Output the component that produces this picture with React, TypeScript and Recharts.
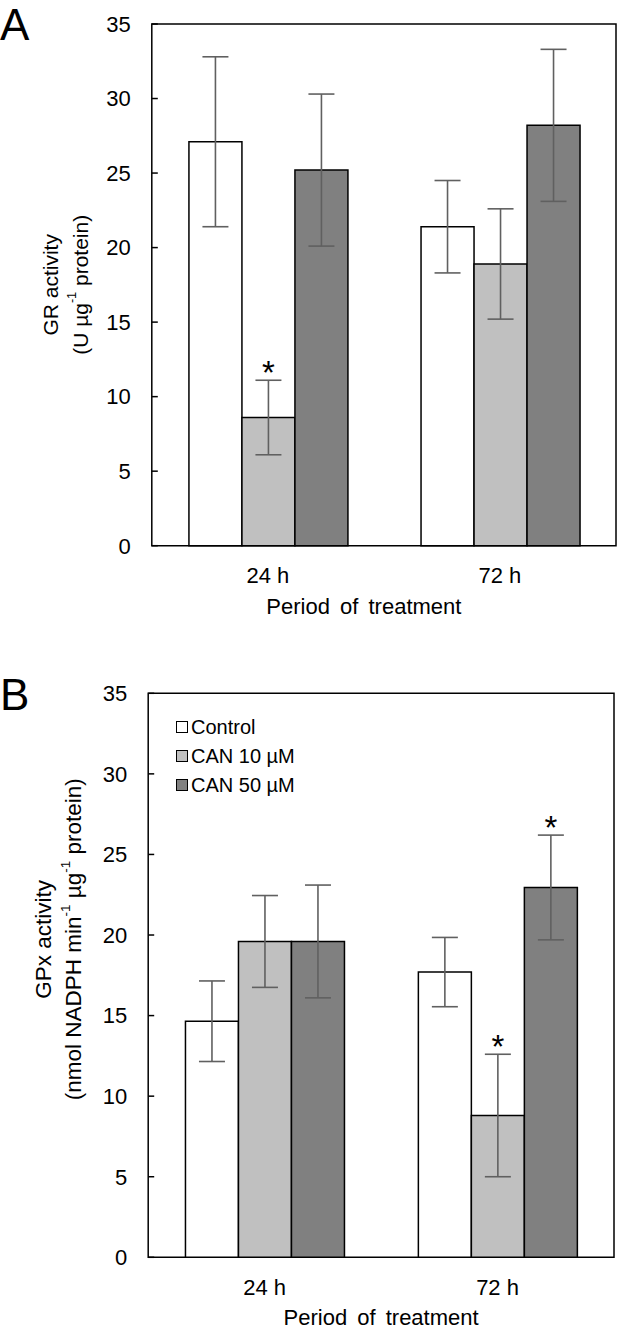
import React from 'react';
import {
  BarChart,
  Bar,
  XAxis,
  YAxis,
  ErrorBar,
  LabelList,
  Legend,
  ReferenceArea,
} from 'recharts';

const FONT = '"Liberation Sans", Arial, Helvetica, sans-serif';

const periods = ['24 h', '72 h'];
const seriesNames = ['Control', 'CAN 10 µM', 'CAN 50 µM'];
const seriesFills = ['#ffffff', '#c0c0c0', '#808080'];
const yTicks = [0, 5, 10, 15, 20, 25, 30, 35];

// GR activity (U µg-1 protein)
const grControl = [27.1, 21.4];
const grControlErr = [5.7, 3.1];
const grCan10 = [8.6, 18.9];
const grCan10Err = [2.5, 3.7];
const grCan50 = [25.2, 28.2];
const grCan50Err = [5.1, 5.1];
const grCan10Sig = [true, false];

// GPx activity (nmol NADPH min-1 µg-1 protein)
const gpxControl = [14.65, 17.7];
const gpxControlErr = [2.5, 2.15];
const gpxCan10 = [19.6, 8.8];
const gpxCan10Err = [2.85, 3.8];
const gpxCan50 = [19.6, 22.95];
const gpxCan50Err = [3.5, 3.25];
const gpxCan10Sig = [false, true];
const gpxCan50Sig = [false, true];

const noSig = [false, false];

type Seg = { t: string; sup?: boolean };

function buildRows(means: number[][], errs: number[][]) {
  return periods.map((period, i) => ({
    period,
    s0: means[0][i],
    s0Err: errs[0][i],
    s1: means[1][i],
    s1Err: errs[1][i],
    s2: means[2][i],
    s2Err: errs[2][i],
  }));
}

const makeStar = (means: number[], errs: number[], sig: boolean[]) => (props: any) => {
  const idx = props.index;
  if (idx == null || !sig[idx]) return null;
  const vb = props.viewBox || props;
  const { x, y, width, height } = vb;
  const top = y - (errs[idx] / means[idx]) * Math.abs(height);
  return (
    <text
      key={`star-${idx}`}
      x={x + width / 2}
      y={top + 4}
      textAnchor="middle"
      fontSize={33}
      fontFamily={FONT}
      fill="#000"
    >
      *
    </text>
  );
};

const YTick = (props: any) => {
  const { x, y, payload } = props;
  return (
    <g>
      <line x1={x + 21} x2={x + 27} y1={y} y2={y} stroke="#000" strokeWidth={1.5} />
      <text x={x} y={y} dy="0.355em" textAnchor="end" fontSize={22} fontFamily={FONT} fill="#000">
        {payload.value}
      </text>
    </g>
  );
};

const makeYTitle = (
  x1: number,
  x2: number,
  line1: string,
  line2: Seg[],
  fontSize: number,
  shiftY: number,
) =>
  (props: any) => {
    const vb = props.viewBox;
    const cy = vb.y + vb.height / 2 + shiftY;
    const line = (cx: number, segs: Seg[], key: string) => (
      <text
        key={key}
        x={cx}
        y={cy}
        transform={`rotate(-90, ${cx}, ${cy})`}
        textAnchor="middle"
        dominantBaseline="central"
        fontSize={fontSize}
        fontFamily={FONT}
        fill="#000"
      >
        {segs.map((s, i) => {
          const prevSup = i > 0 && segs[i - 1].sup;
          if (s.sup) {
            return (
              <tspan key={i} dy={-8} fontSize={fontSize * 0.6}>
                {s.t}
              </tspan>
            );
          }
          return (
            <tspan key={i} dy={prevSup ? 8 : 0}>
              {s.t}
            </tspan>
          );
        })}
      </text>
    );
    return (
      <g>
        {line(x1, [{ t: line1 }], 'l1')}
        {line(x2, line2, 'l2')}
      </g>
    );
  };

const renderLegend = (props: any) => {
  const items = [...(props.payload || [])].sort(
    (a: any, b: any) => seriesNames.indexOf(a.value) - seriesNames.indexOf(b.value),
  );
  return (
    <div style={{ fontFamily: FONT, fontSize: 20, color: '#000' }}>
      {items.map((p: any) => (
        <div key={p.value} style={{ display: 'flex', alignItems: 'center', height: 29 }}>
          <span
            style={{
              display: 'inline-block',
              width: 10,
              height: 10,
              border: '1.5px solid #000',
              background: p.color,
              marginRight: 3,
            }}
          />
          <span>{p.value}</span>
        </div>
      ))}
    </div>
  );
};

type PanelProps = {
  rows: any[];
  means: number[][];
  errs: number[][];
  sigs: boolean[][];
  height: number;
  margin: { top: number; right: number; bottom: number; left: number };
  xAxisHeight: number;
  xLabelDx: number;
  xLabelOffset: number;
  yTitle: (props: any) => React.ReactNode;
  showLegend: boolean;
};

function Panel(p: PanelProps) {
  return (
    <BarChart
      width={618}
      height={p.height}
      data={p.rows}
      margin={p.margin}
      barCategoryGap="16%"
      barGap={0}
    >
      <XAxis
        dataKey="period"
        axisLine={false}
        tickLine={false}
        tickSize={0}
        tickMargin={22}
        height={p.xAxisHeight}
        tick={{ fill: '#000', fontSize: 22, fontFamily: FONT }}
        label={{
          value: 'Period of treatment',
          position: 'insideBottom',
          offset: p.xLabelOffset,
          dx: p.xLabelDx,
          fontSize: 22,
          fontFamily: FONT,
          fill: '#000',
          style: { wordSpacing: '4px' },
        }}
      />
      <YAxis
        domain={[0, 35]}
        ticks={yTicks}
        interval={0}
        axisLine={false}
        tickLine={false}
        tickSize={0}
        tickMargin={21}
        width={60}
        tick={<YTick />}
        label={{ content: p.yTitle }}
      />
      {p.showLegend && (
        <Legend
          layout="horizontal"
          align="center"
          verticalAlign="middle"
          content={renderLegend}
          wrapperStyle={{ left: 176, top: 72.5, width: 'auto', bottom: 'auto', right: 'auto' }}
        />
      )}
      {seriesNames.map((name, s) => (
        <Bar
          key={name}
          dataKey={`s${s}`}
          name={name}
          fill={seriesFills[s]}
          stroke="#000"
          strokeWidth={1.5}
          isAnimationActive={false}
        >
          <ErrorBar
            dataKey={`s${s}Err`}
            width={13}
            stroke="#606060"
            strokeWidth={1.6}
            isAnimationActive={false}
          />
          <LabelList content={makeStar(p.means[s], p.errs[s], p.sigs[s])} />
        </Bar>
      ))}
      <ReferenceArea
        y1={0}
        y2={35}
        fill="none"
        stroke="#000"
        strokeWidth={1.5}
        ifOverflow="visible"
      />
    </BarChart>
  );
}

const grMeans = [grControl, grCan10, grCan50];
const grErrs = [grControlErr, grCan10Err, grCan50Err];
const gpxMeans = [gpxControl, gpxCan10, gpxCan50];
const gpxErrs = [gpxControlErr, gpxCan10Err, gpxCan50Err];

export default function App() {
  const letter: React.CSSProperties = {
    position: 'absolute',
    left: 0,
    fontFamily: FONT,
    fontSize: 44,
    lineHeight: 'normal',
    color: '#000',
  };
  return (
    <div style={{ position: 'absolute', left: 0, top: 0, width: 618, height: 1330, background: '#fff' }}>
      <div style={{ position: 'absolute', left: 0, top: 0 }}>
        <Panel
          rows={buildRows(grMeans, grErrs)}
          means={grMeans}
          errs={grErrs}
          sigs={[noSig, grCan10Sig, noSig]}
          height={640}
          margin={{ top: 24, right: 2, bottom: 26, left: 91.8 }}
          xAxisHeight={68.3}
          xLabelDx={-20}
          xLabelOffset={0}
          yTitle={makeYTitle(50, 80, 'GR activity', [
            { t: '(U µg' },
            { t: '-1', sup: true },
            { t: ' protein)' },
          ], 21, 0)}
          showLegend={false}
        />
      </div>
      <div style={{ position: 'absolute', left: 0, top: 640 }}>
        <Panel
          rows={buildRows(gpxMeans, gpxErrs)}
          means={gpxMeans}
          errs={gpxErrs}
          sigs={[noSig, gpxCan10Sig, gpxCan50Sig]}
          height={690}
          margin={{ top: 53.3, right: 4, bottom: 0, left: 88.2 }}
          xAxisHeight={72.7}
          xLabelDx={0}
          xLabelOffset={5}
          yTitle={makeYTitle(43, 73, 'GPx activity', [
            { t: '(nmol NADPH min' },
            { t: '-1', sup: true },
            { t: ' µg' },
            { t: '-1', sup: true },
            { t: ' protein)' },
          ], 22.5, -36)}
          showLegend
        />
      </div>
      <div style={{ ...letter, top: 0 }}>A</div>
      <div style={{ ...letter, top: 670 }}>B</div>
    </div>
  );
}
